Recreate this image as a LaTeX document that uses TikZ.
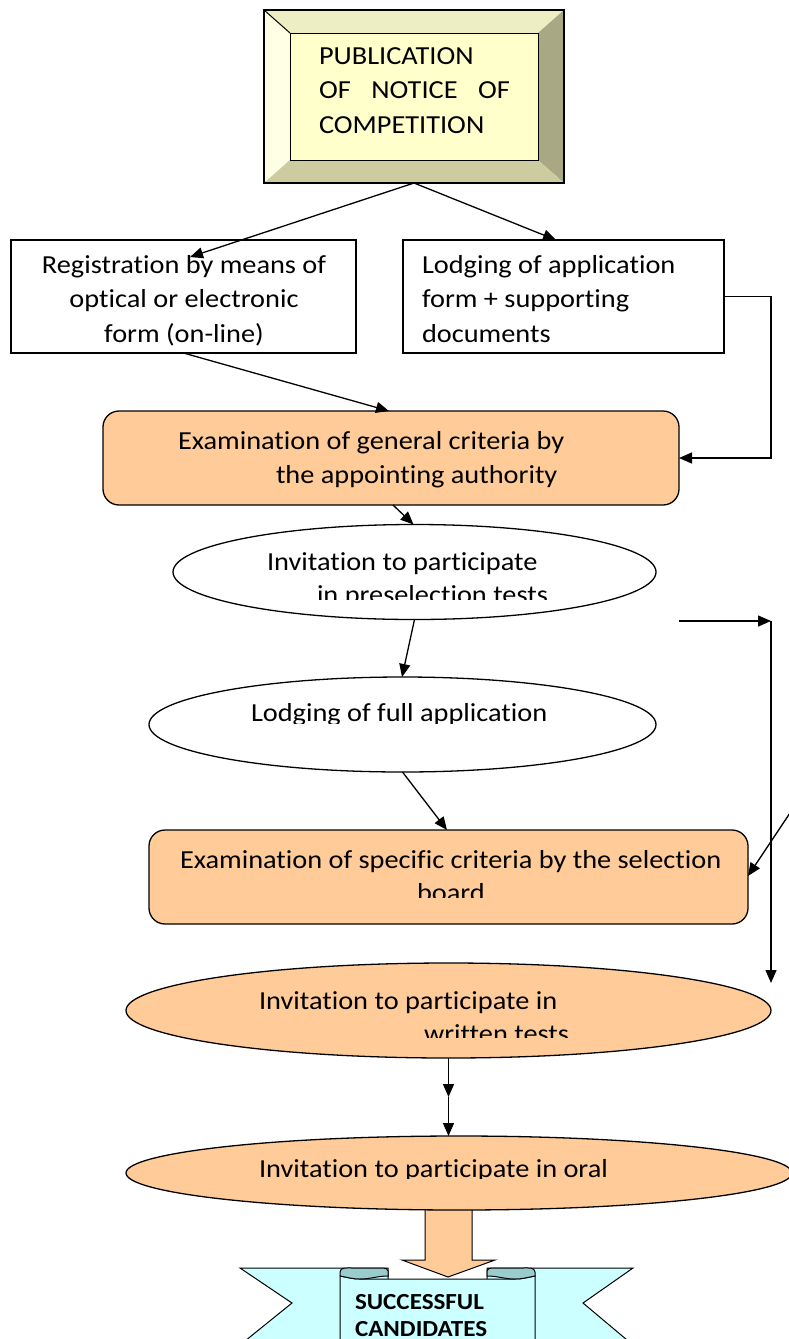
\documentclass[tikz,border=0pt]{standalone}
\usepackage{fontspec}
\setmainfont{Carlito}[Ligatures=NoCommon,FakeStretch=1.09]
\usetikzlibrary{shapes.geometric,arrows.meta,calc}
\definecolor{peach}{HTML}{FFCC99}
\definecolor{pubin}{HTML}{FFFFCC}
\definecolor{publeft}{HTML}{FFFFE6}
\definecolor{pubtop}{HTML}{EEEEC4}
\definecolor{pubright}{HTML}{A8A884}
\definecolor{pubbot}{HTML}{CCCCA0}
\definecolor{ribbon}{HTML}{CCFFFF}
\definecolor{curl}{HTML}{99CCCC}
\begin{document}
\begin{tikzpicture}[x=1pt,y=-1pt,line width=1.3pt,
  font=\fontsize{26}{30}\selectfont,
  arr/.style={-{Triangle[length=13pt,width=11pt]}},
  txt/.style={anchor=base west,inner sep=0pt,outer sep=0pt},
  ctxt/.style={anchor=base,inner sep=0pt,outer sep=0pt},
  sbox/.style={draw,inner sep=0pt,outer sep=0pt},
  rbox/.style={draw,fill=peach,rounded corners=16pt,inner sep=0pt,outer sep=0pt},
  ell/.style={draw,ellipse,inner sep=0pt,outer sep=0pt}]
\useasboundingbox (0,0) rectangle (789,1339);
\fill[white] (0,0) rectangle (789,1339);

% publication bevel box
\fill[pubtop] (264,10) -- (564,10) -- (538,33) -- (290,33) -- cycle;
\fill[publeft] (264,10) -- (290,33) -- (290,160) -- (264,183) -- cycle;
\fill[pubright] (564,10) -- (564,183) -- (538,160) -- (538,33) -- cycle;
\fill[pubbot] (264,183) -- (290,160) -- (538,160) -- (564,183) -- cycle;
\draw[fill=pubin,line width=1pt] (290,33) rectangle (538,160);
\draw[line width=1pt] (264,10) -- (290,33);
\node[sbox,minimum width=300pt,minimum height=173pt] (pub) at (414,96.5) {};
\node[txt] (p1) at (319,64) {PUBLICATION};
\node[txt] (p2) at (319,98) {\makebox[191pt][s]{OF\hfil NOTICE\hfil OF}};
\node[txt] (p3) at (319,133) {COMPETITION};

% top boxes
\node[sbox,minimum width=345pt,minimum height=113pt] (reg) at (183.5,296.5) {};
\node[ctxt] (r1) at (184,273) {Registration by means of};
\node[ctxt] (r2) at (184,307.5) {optical or electronic};
\node[ctxt] (r3) at (184,342) {form (on-line)};
\node[sbox,minimum width=321pt,minimum height=113pt] (lodg) at (563.5,296.5) {};
\node[txt] (l1) at (422,273) {Lodging of application};
\node[txt] (l2) at (422,307.5) {form + supporting};
\node[txt] (l3) at (422,342) {documents};

% general criteria
\node[rbox,minimum width=576pt,minimum height=94pt] (gen) at (391,458) {};
\node[txt] (g1) at (178,449) {Examination of general criteria by};
\node[txt] (g2) at (276,483) {the appointing authority};

% preselection
\node[ell,fill=white,minimum width=483pt,minimum height=95pt] (pre) at (414.5,572) {};
\node[txt] (e1) at (267,570) {Invitation to participate};
\begin{scope}
\clip (0,0) rectangle (789,599);
\node[txt] (e2) at (317,603) {in preselection tests};
\end{scope}

% full application
\node[ell,fill=white,minimum width=507pt,minimum height=95pt] (full) at (402.5,724.5) {};
\begin{scope}
\clip (0,0) rectangle (789,723);
\node[txt] (f1) at (251,721) {Lodging of full application};
\end{scope}

% specific criteria
\node[rbox,minimum width=599pt,minimum height=94pt] (spec) at (448.5,877) {};
\node[txt] (s1) at (180,868) {Examination of specific criteria by the selection};
\begin{scope}
\clip (0,0) rectangle (789,897);
\node[txt] (s2) at (417,901) {board};
\end{scope}

% ribbon
\draw[fill=ribbon,line width=1pt] (240,1268) -- (388,1268) -- (388,1345) -- (240,1345) -- (292,1303) -- cycle;
\draw[fill=ribbon,line width=1pt] (487,1268) -- (633,1268) -- (583,1303) -- (633,1345) -- (487,1345) -- cycle;
\draw[fill=ribbon,line width=1pt] (340,1276) to[out=-10,in=180] (360,1279) -- (515,1279) to[out=0,in=190] (535,1276) -- (535,1345) -- (340,1345) -- cycle;
\draw[fill=curl,line width=1pt] (340,1276) -- (340,1272) to[out=90,in=180] (352,1268) -- (383,1268) to[out=0,in=90] (388,1271) -- (388,1276) to[out=180,in=0] (360,1279) to[out=180,in=-10] cycle;
\draw[fill=curl,line width=1pt] (535,1276) -- (535,1272) to[out=90,in=0] (523,1268) -- (492,1268) to[out=180,in=90] (487,1271) -- (487,1276) to[out=0,in=180] (515,1279) to[out=0,in=190] cycle;
\node[txt,font=\fontsize{23}{26}\selectfont\bfseries] (c1) at (355,1309) {SUCCESSFUL};
\node[txt,font=\fontsize{23}{26}\selectfont\bfseries] (c2) at (355,1336) {CANDIDATES};

% block arrow
\draw[fill=peach,line width=1pt] (425,1195) -- (472,1195) -- (472,1260) -- (495,1260) -- (448,1277) -- (402,1260) -- (425,1260) -- cycle;

% written tests
\node[ell,fill=peach,minimum width=645pt,minimum height=95pt] (wri) at (448.5,1010.5) {};
\node[txt] (w1) at (259,1009) {Invitation to participate in};
\begin{scope}
\clip (0,0) rectangle (789,1037);
\node[txt] (w2) at (424,1042) {written tests};
\end{scope}

% oral
\node[ell,fill=peach,minimum width=666pt,minimum height=74pt] (oral) at (459,1173) {};
\begin{scope}
\clip (0,0) rectangle (789,1178);
\node[txt] (o1) at (259,1177) {Invitation to participate in oral};
\end{scope}

% connectors
\coordinate (regin) at ($(reg.north west)+(179,17)$);
\draw[arr] (pub.south) -- (regin);
\draw[arr] (pub.south) -- ($(lodg.north)+(-7.5,0)$);
\draw[arr] (reg.south) -- ($(gen.north)+(-2,0)$);
\draw[arr] (lodg.east) -- ++(47,0) |- (gen.east);
\draw[arr] ($(gen.south)+(2,0)$) -- ($(pre.north)+(-1,0)$);
\draw[arr] (pre.south) -- ($(full.north)+(-0.5,0)$);
\draw[arr] (full.south) -- ($(spec.north)+(-1.5,0)$);
\coordinate (br1) at (679,621);
\coordinate (br2) at (771,621);
\coordinate (br3) at (771,983);
\draw[arr] (br1) -- (br2);
\draw[arr] (br2) -- (br3);
\coordinate (off) at (800,798);
\draw[arr] (off) -- ($(spec.east)+(0,-1)$);
\coordinate (mid) at (448.5,1097);
\draw[arr] (wri.south) -- (mid);
\draw[arr] (mid) -- (wri.south |- oral.north);
\end{tikzpicture}
\end{document}
